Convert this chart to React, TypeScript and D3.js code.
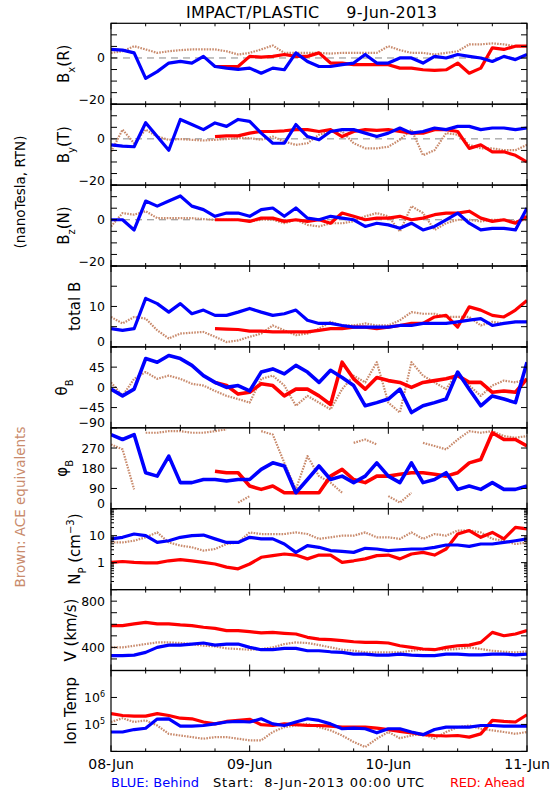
import React from "react";
import * as d3 from "d3";

// ---- time grid (hours since 2013-06-08 00:00 UTC), 2-hour samples ----
const HOURS = d3.range(0, 73, 2);
const DAY_LABELS = ["08-Jun", "09-Jun", "10-Jun", "11-Jun"];

const _ = null;
const PRE9 = [_, _, _, _, _, _, _, _, _];

// ---- Bx (R) ----
const bxBlue = [3.7,3.4,2.2,-8.8,-5.9,-2.2,-1.5,-2.2,0.7,-3.7,-4.4,-4.9,-4.4,-6.6,-4.4,-5.1,2.2,-1.5,-3.7,-3.7,-2.9,-2.2,1.5,-2.2,-2.2,0,0,-2.2,0.7,0,1.5,0.7,0,-1.5,0.7,-0.7,1.5];
const bxRed = [...PRE9, -3.7,-3.7,-3.7,0.7,0.4,0.7,1.5,0.7,0.7,2.2,-2.2,-2.2,-2.9,-2.9,-2.9,-2.9,-4.4,-4.4,-5.1,-5.4,-5.1,-2.2,-6.6,-4.4,4.4,3.7,5.1,5.1];
const bxBrown = [2.2,2.9,5.1,3.7,2.2,2.9,3.4,3.7,3.7,3.7,2.9,1.5,2.2,3.7,5.4,2.2,2.2,2.2,2.2,1.9,2.2,2.2,2.2,2.2,5.1,3.4,2.2,2.2,1.5,2.2,2.9,5.9,5.9,6.3,5.9,5.1,5.1];

// ---- By (T) ----
const byBlue = [-2.6,-3.1,-3.4,7,1,-4.9,8.4,6.2,4,6.9,5.4,8.4,7.6,2.5,-1.9,-1.9,6.2,1,-0.4,3.2,4,4,2.5,1,2.5,4.7,2.5,3.2,4.7,4,5.4,5.4,4,4.7,4.7,4,4.7];
const byRed = [...PRE9, 1,1.3,1.3,2.5,3.2,3.2,3.5,4,4,3.2,4,1,3.2,4,3.7,4,3.2,2.5,2.5,4,4,3.2,-4.1,-2.6,-5.6,-5.6,-7.1,-10];
const byBrown = [-5.6,4,-1.9,4,1,-0.4,-0.1,-0.4,-0.7,-0.4,-0.1,0.3,0.3,-0.4,1,-1.2,-2.6,-1.9,1.8,3.2,3.2,-1.9,-4.1,-4.1,-3.4,-0.4,4,-7.1,-4.9,2.5,1.8,-2.6,-4.1,-4.1,-4.9,-4.9,-2.6];

// ---- Bz (N) ----
const bzBlue = [0,0,-4.4,8.1,5.9,8.1,10.3,5.9,4.4,1.5,2.9,2.9,1.5,4.4,5.1,1.5,5.1,0.7,0,1.5,0.7,0,-2.9,-1.5,-2.2,-3.7,-1.5,-4.4,-2.9,0,2.9,-1.5,-4.4,-3.7,-3.7,-4.4,5.1];
const bzRed = [...PRE9, 0,0,0,-0.7,0.7,0.7,-0.7,0,-0.7,0,-1.5,2.9,1.5,0,0.7,0.7,1.5,0,0.7,2.2,2.9,2.9,3.7,0.7,-0.7,0,-1.5,1.5];
const bzBrown = [-2.9,2.9,2.2,3.7,0.7,0.7,0.7,0.7,0.3,0,0,0,-0.7,0,0,-1.5,0,-2.2,-2.9,-1.5,-1.5,-0.7,1.5,2.9,1.5,-5.1,5.9,2.9,-4.4,-1.5,0,0,-0.7,0,0,-0.7,0];

// ---- total B ----
const btBlue = [4.5,4.1,4.5,12,10.7,8.6,10.7,8.2,9.1,7.8,7.8,8.6,9.5,8.6,7.8,8.2,9.1,6.6,5.8,5.8,5.3,4.9,4.9,4.9,4.9,5.3,5.3,5.8,5.8,5.8,6.2,6.6,7,5.3,5.8,6.2,6.2];
const btRed = [...PRE9, 4.5,4.4,4.3,3.9,3.9,3.7,3.7,3.7,3.7,4.1,4.5,4.5,4.9,4.9,4.5,4.9,5.3,5.8,5.8,7.4,7.8,4.9,9.9,9.1,7.8,7.4,9.1,11.5];
const btBrown = [7.4,5.8,7.4,7,4.1,2.1,3.3,3.5,3.7,2.5,1.2,1.6,2.5,3.3,5.3,4.1,2.9,3.3,4.5,6.2,5.3,5.3,5.8,5.3,5.3,6.6,8.6,8.2,8.2,7.4,7.4,7.4,5.3,6.2,5.8,6.2,6.2];

// ---- theta_B ----
const thBlue = [-4,-19,-4,64,56,71,64,49,26,11,0,4,-8,34,41,30,49,34,11,38,22,4,-41,-34,-26,-4,-56,-41,-34,-26,34,-4,-41,-19,-26,-34,56];
const thRed = [...PRE9, 11,4,-15,-11,8,4,-19,-4,-4,-19,-38,56,19,-4,22,15,11,0,11,15,19,26,11,11,-11,-8,-11,19];
const thBrown = [11,-19,19,34,19,26,19,8,4,-8,-19,-26,-34,19,26,4,-41,-19,-34,-49,-4,26,11,56,-34,-56,56,26,11,-4,34,4,-19,4,15,11,19];

// ---- phi_B ----
const phBlue = [330,308,330,160,145,234,116,116,130,130,123,130,130,175,204,190,71,130,190,130,145,116,145,204,145,116,204,116,130,160,86,101,86,116,86,86,101];
const phRed = [...PRE9, 167,160,160,101,86,101,71,71,71,71,145,175,130,116,145,145,153,160,160,153,145,160,204,219,338,308,308,279];
const phBrown = [286,264,86,338,338,345,345,338,338,345,353,27,56,345,330,204,86,234,145,116,71,293,308,286,56,27,71,293,279,264,308,345,338,345,323,316,323];

// ---- Np (cm^-3) ----
const npBlue = [7.6,8.7,11.5,10,5.6,6.5,8.7,10,10.5,7.6,5.6,5.6,8.7,7.6,7.6,4.9,2.4,4.3,3.7,2.8,2.6,2.4,3.4,3.2,2.8,3.0,3.2,3.2,3.7,4.5,4.5,4.0,4.9,4.9,5.6,6.5,7.6];
const npRed = [1.02,1.1,1.02,0.98,0.98,1.17,1.29,1.17,1.02,0.89,0.68,0.59,0.89,1.58,1.82,2.09,1.91,1.38,1.91,1.91,1.02,1.17,1.38,1.82,1.91,1.38,2.09,2.4,1.91,3.2,11.5,15.5,8.7,13.2,7.6,20.4,17.8];
const npBrown = [5.6,5.6,6.5,8.7,13.2,5.6,4.3,3.7,2.8,3.2,4.9,5.6,13.2,11.5,11.5,11.5,13.2,11.5,7.6,8.7,10,10,13.2,8.7,8.7,7.6,13.2,7.6,11.5,10,15.5,15.5,13.2,7.6,6.5,4.9,5.6];

// ---- V (km/s) ----
const vBlue = [328,328,333,357,400,420,420,429,438,420,429,429,400,380,380,391,391,371,371,362,357,342,342,333,333,342,333,328,328,342,342,336,336,342,342,336,342];
const vRed = [588,588,603,617,603,603,594,588,574,565,545,545,536,525,530,522,516,487,472,467,458,449,443,443,438,414,400,386,380,400,414,420,443,530,501,516,545];
const vBrown = [400,400,414,429,443,443,438,429,414,409,391,386,380,386,400,429,443,438,420,400,380,371,357,357,357,357,371,380,386,380,386,400,386,371,362,357,365];

// ---- Ion Temp (K) ----
const tBlue = [52500,52500,64600,72400,158000,162000,87100,87100,91200,105000,123000,129000,123000,162000,105000,91200,123000,162000,141000,105000,69200,72400,69200,49000,69200,69200,52500,41700,64600,79400,79400,79400,91200,91200,87100,87100,87100];
const tRed = [251000,214000,204000,204000,251000,214000,170000,162000,123000,105000,129000,141000,155000,97700,91200,105000,97700,91200,91200,87100,79400,79400,79400,72400,64600,55000,49000,41700,38900,37200,38900,33900,44700,141000,129000,123000,229000];
const tBrown = [123000,170000,123000,141000,91200,44700,38900,33900,29500,33900,33900,29500,25700,25700,52500,79400,91200,105000,79400,60300,38900,22400,14500,29500,52500,30900,38900,44700,29500,52500,79400,91200,69200,60300,52500,44700,52500];

// ---- tick label sets ----
const B_TICKS = [-20, -15, -10, -5, 0, 5, 10, 15];
const B_LABELS = [-20, 0];
const BT_TICKS = [0, 5, 10, 15, 20];
const BT_LABELS = [0, 10];
const TH_TICKS = [-90, -45, 0, 45, 90];
const TH_LABELS = [-90, -45, 0, 45];
const PH_TICKS = [0, 90, 180, 270, 360];
const PH_LABELS = [0, 90, 180, 270];
const NP_LABELS = [1, 10];
const V_TICKS = [200, 300, 400, 500, 600, 700, 800, 900];
const V_LABELS = [400, 800];
const T_TICKS = [1e4, 1e5, 1e6, 1e7];
const T_LABELS = [1e5, 1e6];

// ---- layout / style ----
const W = 550;
const H = 800;
const X0 = 111;
const X1 = 527;
const TOP = 23.3;
const PH = 80.9;
const BLUE = "#0000ff";
const RED = "#ff0000";
const BROWN = "#c98b6d";
const FONT = "DejaVu Sans, sans-serif";

type Panel = {
  log: boolean;
  domain: [number, number];
  ticks: number[];
  minor: number[];
  labels: number[];
  fmt: (v: number) => React.ReactNode;
  zero: boolean;
  wrap: boolean;
  series: { vals: (number | null)[]; color: string }[];
  ylabel: React.ReactNode;
  ylx: number;
};

const minus = (v: number) => (v < 0 ? "\u2212" + Math.abs(v) : String(v));
const logMinor = (lo: number, hi: number) => {
  const out: number[] = [];
  for (let d = lo; d < hi; d *= 10) for (let m = 2; m <= 9; m++) out.push(d * m);
  return out;
};
const pow10 = (v: number) => (
  <>
    10<tspan dy={-5} fontSize={8}>{Math.round(Math.log10(v))}</tspan>
  </>
);

const sub = (t: string) => (
  <tspan baselineShift="sub" fontSize={10}>{t}</tspan>
);

const PANELS: Panel[] = [
  { log: false, domain: [-20, 15], ticks: B_TICKS, minor: [], labels: B_LABELS, fmt: minus, zero: true, wrap: false,
    series: [{ vals: bxBrown, color: BROWN }, { vals: bxRed, color: RED }, { vals: bxBlue, color: BLUE }],
    ylabel: <>B{sub("x")}(R)</>, ylx: 69 },
  { log: false, domain: [-20, 15], ticks: B_TICKS, minor: [], labels: B_LABELS, fmt: minus, zero: true, wrap: false,
    series: [{ vals: byBrown, color: BROWN }, { vals: byRed, color: RED }, { vals: byBlue, color: BLUE }],
    ylabel: <>B{sub("y")}(T)</>, ylx: 69 },
  { log: false, domain: [-20, 15], ticks: B_TICKS, minor: [], labels: B_LABELS, fmt: minus, zero: true, wrap: false,
    series: [{ vals: bzBrown, color: BROWN }, { vals: bzRed, color: RED }, { vals: bzBlue, color: BLUE }],
    ylabel: <>B{sub("z")}(N)</>, ylx: 69 },
  { log: false, domain: [0, 20], ticks: BT_TICKS, minor: [], labels: BT_LABELS, fmt: minus, zero: false, wrap: false,
    series: [{ vals: btBrown, color: BROWN }, { vals: btRed, color: RED }, { vals: btBlue, color: BLUE }],
    ylabel: <>total B</>, ylx: 80 },
  { log: false, domain: [-90, 90], ticks: TH_TICKS, minor: [], labels: TH_LABELS, fmt: minus, zero: false, wrap: false,
    series: [{ vals: thBrown, color: BROWN }, { vals: thRed, color: RED }, { vals: thBlue, color: BLUE }],
    ylabel: <>θ{sub("B")}</>, ylx: 67 },
  { log: false, domain: [0, 360], ticks: PH_TICKS, minor: [], labels: PH_LABELS, fmt: minus, zero: false, wrap: true,
    series: [{ vals: phBrown, color: BROWN }, { vals: phRed, color: RED }, { vals: phBlue, color: BLUE }],
    ylabel: <>φ{sub("B")}</>, ylx: 67 },
  { log: true, domain: [0.1, 100], ticks: [0.1, 1, 10, 100], minor: logMinor(0.1, 100), labels: NP_LABELS, fmt: (v) => String(v), zero: false, wrap: false,
    series: [{ vals: npBrown, color: BROWN }, { vals: npRed, color: RED }, { vals: npBlue, color: BLUE }],
    ylabel: <>N{sub("P")} (cm<tspan dy={-6} fontSize={10}>−3</tspan><tspan dy={6}>)</tspan></>, ylx: 80 },
  { log: false, domain: [200, 900], ticks: V_TICKS, minor: [], labels: V_LABELS, fmt: minus, zero: false, wrap: false,
    series: [{ vals: vBrown, color: BROWN }, { vals: vRed, color: RED }, { vals: vBlue, color: BLUE }],
    ylabel: <>V (km/s)</>, ylx: 76 },
  { log: true, domain: [1e4, 1e7], ticks: T_TICKS, minor: [], labels: T_LABELS, fmt: pow10, zero: false, wrap: false,
    series: [{ vals: tBrown, color: BROWN }, { vals: tRed, color: RED }, { vals: tBlue, color: BLUE }],
    ylabel: <>Ion Temp</>, ylx: 76 },
];

const x = d3.scaleLinear().domain([0, 72]).range([X0, X1]);
const X_MINOR = d3.range(0, 73, 6);

function segmentsFor(vals: (number | null)[], wrap: boolean) {
  const segs: [number, number][][] = [];
  let cur: [number, number][] = [];
  vals.forEach((v, i) => {
    if (v == null) {
      if (cur.length) segs.push(cur);
      cur = [];
      return;
    }
    const prev = i > 0 ? vals[i - 1] : null;
    if (wrap && prev != null && Math.abs(v - prev) > 180) {
      if (cur.length) segs.push(cur);
      cur = [];
    }
    cur.push([HOURS[i], v]);
  });
  if (cur.length) segs.push(cur);
  return segs;
}

function PanelView({ p, i }: { p: Panel; i: number }) {
  const top = TOP + i * PH;
  const bot = top + PH;
  const y = p.log
    ? d3.scaleLog().domain(p.domain).range([bot, top])
    : d3.scaleLinear().domain(p.domain).range([bot, top]);
  const line = d3
    .line<[number, number]>()
    .x((d) => x(d[0]))
    .y((d) => y(d[1]));
  const midY = (top + bot) / 2;
  const wide = i === 4 || i === 5;
  return (
    <g>
      <defs>
        <clipPath id={`clip${i}`}>
          <rect x={X0} y={top} width={X1 - X0} height={PH} />
        </clipPath>
      </defs>
      <g clipPath={`url(#clip${i})`}>
        {p.zero && (
          <line x1={X0} x2={X1} y1={y(0)} y2={y(0)} stroke="#888" strokeWidth={1} strokeDasharray="7 5" />
        )}
        {p.series.map((s, si) =>
          segmentsFor(s.vals, p.wrap).map((seg, k) =>
            seg.length === 1 ? (
              <circle key={`${si}-${k}`} cx={x(seg[0][0])} cy={y(seg[0][1])} r={1.8} fill={s.color} />
            ) : (
              <path
                key={`${si}-${k}`}
                d={line(seg) || ""}
                fill="none"
                stroke={s.color}
                strokeWidth={s.color === BROWN ? 2.2 : wide ? 3.6 : 3.2}
                strokeDasharray={s.color === BROWN ? "1.6 1.2" : undefined}
                strokeLinejoin="round"
              />
            )
          )
        )}
      </g>
      {X_MINOR.map((h) => {
        const len = h % 24 === 0 ? 6 : 3;
        return (
          <g key={`xt${h}`} stroke="#000" strokeWidth={1}>
            <line x1={x(h)} x2={x(h)} y1={top} y2={top + len} />
            <line x1={x(h)} x2={x(h)} y1={bot} y2={bot - len} />
          </g>
        );
      })}
      {p.ticks.map((t) => (
        <g key={`yt${t}`} stroke="#000" strokeWidth={1}>
          <line x1={X0} x2={X0 + 6} y1={y(t)} y2={y(t)} />
          <line x1={X1} x2={X1 - 6} y1={y(t)} y2={y(t)} />
        </g>
      ))}
      {p.minor.map((t) => (
        <g key={`ym${t}`} stroke="#000" strokeWidth={1}>
          <line x1={X0} x2={X0 + 3} y1={y(t)} y2={y(t)} />
          <line x1={X1} x2={X1 - 3} y1={y(t)} y2={y(t)} />
        </g>
      ))}
      {p.labels.map((t) => {
        const ty = Math.min(y(t), bot - 5);
        return (
          <text key={`yl${t}`} x={X0 - 6} y={ty} dy="0.36em" textAnchor="end" fontSize={12.5} fontFamily={FONT} fill="#000">
            {p.fmt(t)}
          </text>
        );
      })}
      <rect x={X0} y={top} width={X1 - X0} height={PH} fill="none" stroke="#000" strokeWidth={1.2} />
      <text
        transform={`translate(${p.ylx},${midY}) rotate(-90)`}
        textAnchor="middle"
        fontSize={15}
        fontFamily={FONT}
        fill="#000"
      >
        {p.ylabel}
      </text>
    </g>
  );
}

export default function App() {
  const bottom = TOP + PANELS.length * PH;
  return (
    <svg width={W} height={H} style={{ position: "absolute", left: 0, top: 0, background: "#fff" }}>
      <rect width={W} height={H} fill="#fff" />
      <text x={186} y={18} fontSize={16} fontFamily={FONT} fill="#000" xmlSpace="preserve" textLength={251} lengthAdjust="spacing">
        IMPACT/PLASTIC     9-Jun-2013
      </text>
      {PANELS.map((p, i) => (
        <PanelView key={i} p={p} i={i} />
      ))}
      <text transform="translate(25,192) rotate(-90)" textAnchor="middle" fontSize={13.5} fontFamily={FONT} fill="#000">
        (nanoTesla, RTN)
      </text>
      <text transform="translate(25,507) rotate(-90)" textAnchor="middle" fontSize={13.5} fontFamily={FONT} fill={BROWN}>
        Brown: ACE equivalents
      </text>
      {DAY_LABELS.map((d, k) => (
        <text key={d} x={x(k * 24)} y={bottom + 18} textAnchor="middle" fontSize={14} fontFamily={FONT} fill="#000">
          {d}
        </text>
      ))}
      <text x={X0} y={bottom + 36} fontSize={13} fontFamily={FONT} fill={BLUE} textLength={88} lengthAdjust="spacing">
        BLUE: Behind
      </text>
      <text x={213} y={bottom + 36} fontSize={13} fontFamily={FONT} fill="#000" xmlSpace="preserve" textLength={211} lengthAdjust="spacing">
        Start:  8-Jun-2013 00:00 UTC
      </text>
      <text x={450} y={bottom + 36} fontSize={13} fontFamily={FONT} fill={RED} textLength={75} lengthAdjust="spacing">
        RED: Ahead
      </text>
    </svg>
  );
}
